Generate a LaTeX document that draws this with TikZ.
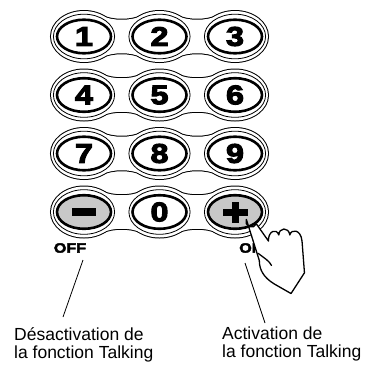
\documentclass[tikz,border=0pt]{standalone}
\usepackage{fontspec}
\setmainfont{Liberation Sans}
\newfontfamily\keyfont[FakeBold=4,FakeStretch=1.2]{Liberation Sans Bold}
\newfontfamily\tagfont[FakeBold=3,FakeStretch=1.2]{Liberation Sans Bold}
\definecolor{keygray}{RGB}{200,200,200}

% outline of one row of three keys: outer contour of the merged plate
\newcommand\plateoutline[1]{%
  \foreach \cx in {84,159.5,235}{\path[#1] (\cx,0) ellipse [x radius=33,y radius=25.5];}
  \foreach \cx/\dx in {84/159.5,159.5/235}{%
    \path[#1] (\cx+18.6,-20.5) .. controls (\cx+28,-15.5) and (\dx-28,-15.5) .. (\dx-18.6,-20.5)
      -- (\dx-18.6,20.5) .. controls (\dx-28,15.5) and (\cx+28,15.5) .. (\cx+18.6,20.5) -- cycle;}%
}
\newcommand\keyplate[1]{%
  \begin{scope}[shift={(0,#1)}]
    \plateoutline{draw=black,line width=2pt}
    \plateoutline{fill=white}
    \foreach \cx in {84,159.5,235}{\draw[ring] (\cx,0) ellipse [x radius=30.6,y radius=22.3];}
  \end{scope}}

\begin{document}
\begin{tikzpicture}[x=1pt,y=-1pt,
  ring/.style={line width=0.8pt},
  keyrim/.style={line width=2.6pt},
  keylabel/.style={inner sep=0pt,font=\keyfont\fontsize{27}{27}\selectfont},
  tag/.style={inner sep=0pt,font=\tagfont\fontsize{13.5}{13.5}\selectfont},
  caption/.style={inner sep=0pt,align=left,anchor=north west,
    font=\fontsize{17.5}{18}\selectfont},
  leader/.style={line width=0.8pt},
  hand/.style={fill=white,draw=black,line width=1.3pt,line join=round,line cap=round}]
\useasboundingbox (0,0) rectangle (369,365);

% the four rows of the keypad
\foreach \ry in {36.5,95,153.5,212}{\keyplate{\ry}}

% digit keys
\foreach \ry in {36.5,95,153.5}{%
  \draw[keyrim] (84,\ry) ellipse [x radius=27,y radius=16.8];
  \draw[keyrim] (159.5,\ry) ellipse [x radius=27,y radius=16.8];
  \draw[keyrim] (235,\ry) ellipse [x radius=27,y radius=16.8];
}
\node[keylabel] (k1) at (84,36.5) {1};
\node[keylabel] (k2) at (159.5,36.5) {2};
\node[keylabel] (k3) at (235,36.5) {3};
\node[keylabel] (k4) at (84,95) {4};
\node[keylabel] (k5) at (159.5,95) {5};
\node[keylabel] (k6) at (235,95) {6};
\node[keylabel] (k7) at (84,153.5) {7};
\node[keylabel] (k8) at (159.5,153.5) {8};
\node[keylabel] (k9) at (235,153.5) {9};

% bottom row: minus, zero, plus
\draw[keyrim,fill=keygray] (84,212) ellipse [x radius=27,y radius=16.8];
\draw[keyrim] (159.5,212) ellipse [x radius=27,y radius=16.8];
\draw[keyrim,fill=keygray] (235,212) ellipse [x radius=27,y radius=16.8];
\node[keylabel] (k0) at (159.5,212) {0};
\fill (72,208) rectangle (96,216);
\fill (222.5,208.5) rectangle (247.5,215.5);
\fill (231.5,201.5) rectangle (238.5,222.5);

% OFF / ON tags
\node[tag] (off) at (70,248) {OFF};
\node[tag,anchor=west] (on) at (239,248) {ON};

% captions and their leaders
\node[caption] (offcap) at (14,327) {Désactivation de\\la fonction Talking};
\node[caption] (oncap) at (222,327) {Activation de\\la fonction Talking};
\coordinate (offa) at (83,260);
\coordinate (offb) at (63,317);
\coordinate (ona) at (245,263);
\coordinate (onb) at (265,323);
\draw[leader] (offa) -- (offb);
\draw[leader] (ona) -- (onb);

% pointing hand pressing the plus key
\begin{scope}[shift={(252,213)},scale=1.22,shift={(-252,-213)}]
\draw[hand] (258,252) -- (247.4,218.3)
  arc [start angle=204,end angle=24,radius=4.5]
  -- (265.5,236)
  .. controls (265,228) and (272,225) .. (274,231)
  .. controls (274,225) and (282,224) .. (283,231)
  .. controls (284,226) and (292,226) .. (293,236)
  -- (295,262) -- (284,279) -- (270,271)
  .. controls (262,266) and (258,260) .. (258,252);
\draw[hand,fill=none] (257,246) .. controls (262,250) and (266,252) .. (268,256);
\end{scope}
\end{tikzpicture}
\end{document}
